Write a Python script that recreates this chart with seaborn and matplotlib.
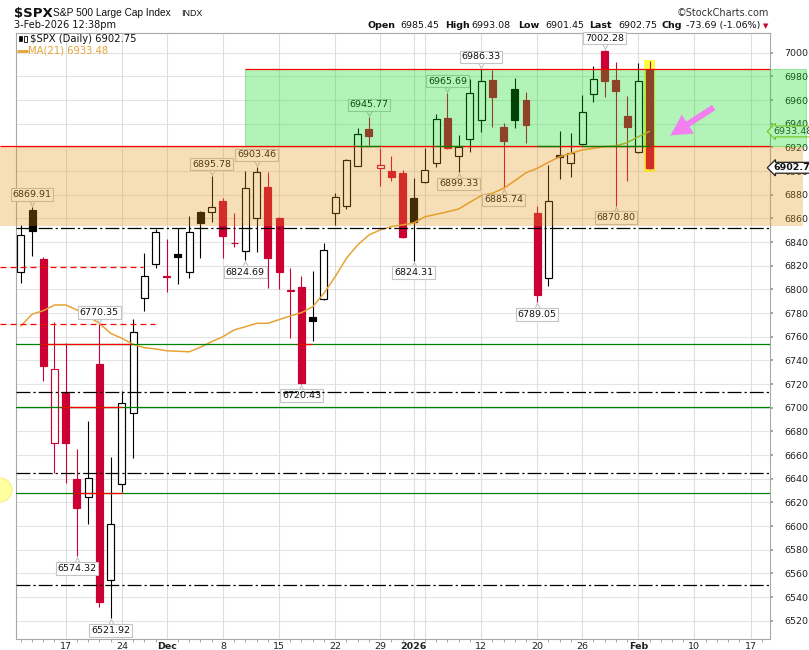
import matplotlib
matplotlib.use("Agg")
import matplotlib.pyplot as plt
from matplotlib.patches import Rectangle, Ellipse, FancyArrowPatch
from matplotlib.lines import Line2D
import matplotlib.transforms as mtransforms
import numpy as np
import pandas as pd
import seaborn as sns

# ---------------- data ----------------
opens = [6814.4, 6867.1, 6825.6, 6670.4, 6712.7, 6639.7, 6624.3, 6736.9, 6554.4, 6635.3,
         6695.3, 6792.4, 6821.2, 6810.3, 6829.6, 6814.4, 6865.6, 6865.1, 6874.7, 6839.0,
         6832.4, 6860.0, 6886.3, 6860.0, 6799.0, 6802.2, 6776.4, 6791.6, 6864.3, 6870.7,
         6904.3, 6935.3, 6902.3, 6900.0, 6898.1, 6876.9, 6891.0, 6907.0, 6944.6, 6913.0,
         6926.8, 6943.1, 6976.9, 6937.2, 6969.1, 6960.0, 6864.8, 6809.3, 6913.5, 6906.5,
         6922.8, 6965.1, 7001.4, 6976.9, 6946.5, 6915.8, 6985.45]
highs = [6854.4, 6869.91, 6827.1, 6772.7, 6754.4, 6665.1, 6688.8, 6770.35, 6658.6, 6714.4,
         6774.7, 6830.5, 6850.8, 6842.6, 6851.6, 6862.0, 6866.2, 6895.78, 6876.9, 6864.2,
         6900.3, 6903.46, 6899.4, 6861.4, 6817.8, 6811.3, 6815.5, 6838.9, 6881.2, 6910.2,
         6936.6, 6945.77, 6919.2, 6912.7, 6900.9, 6893.9, 6919.2, 6947.9, 6965.69, 6930.4,
         6977.5, 6986.33, 6985.4, 6940.3, 6978.4, 6967.0, 6870.4, 6905.1, 6933.8, 6931.9,
         6964.3, 6989.0, 7002.28, 6992.4, 6963.4, 6991.5, 6993.08]
lows = [6805.6, 6828.2, 6722.8, 6644.5, 6636.6, 6574.32, 6601.5, 6531.8, 6521.92, 6629.0,
        6657.7, 6782.0, 6818.3, 6798.0, 6804.5, 6809.3, 6826.2, 6857.2, 6826.2, 6836.0,
        6824.69, 6831.8, 6800.9, 6800.1, 6758.6, 6720.43, 6756.6, 6791.0, 6854.4, 6867.7,
        6904.0, 6922.0, 6887.6, 6891.8, 6843.2, 6824.31, 6890.1, 6903.2, 6918.4, 6899.33,
        6916.3, 6933.2, 6937.5, 6885.74, 6936.1, 6923.9, 6789.05, 6803.1, 6893.0, 6894.7,
        6922.0, 6958.1, 6962.3, 6870.80, 6891.8, 6915.0, 6901.45]
closes = [6845.9, 6849.6, 6735.5, 6732.4, 6670.4, 6615.5, 6640.3, 6536.0, 6601.5, 6703.7,
          6764.2, 6811.3, 6848.2, 6811.0, 6827.6, 6848.2, 6855.8, 6869.3, 6845.3, 6839.6,
          6885.4, 6899.4, 6826.3, 6814.9, 6799.4, 6721.0, 6773.5, 6833.0, 6877.8, 6909.3,
          6931.0, 6929.6, 6905.1, 6895.2, 6844.0, 6857.2, 6900.9, 6943.7, 6919.7, 6920.6,
          6965.7, 6976.3, 6962.8, 6925.6, 6943.1, 6938.9, 6795.2, 6874.7, 6912.1, 6915.0,
          6949.6, 6977.5, 6976.5, 6967.9, 6937.5, 6976.44, 6902.75]
ma21 = [6769.0, 6778.9, 6782.0, 6786.8, 6786.8, 6782.6, 6776.9, 6771.3, 6762.9, 6758.6,
        6753.6, 6750.7, 6749.6, 6748.1, 6747.7, 6747.2, 6751.1, 6755.8, 6760.0, 6765.7,
        6768.4, 6771.3, 6771.3, 6774.4, 6777.5, 6780.3, 6785.3, 6796.7, 6810.7, 6826.2,
        6837.5, 6845.9, 6850.2, 6853.0, 6854.4, 6856.2, 6861.4, 6863.4, 6865.6, 6867.9,
        6873.6, 6879.2, 6881.2, 6885.4, 6891.8, 6898.6, 6902.3, 6907.4, 6912.1, 6915.0,
        6917.8, 6919.2, 6920.6, 6921.2, 6923.9, 6929.0, 6933.48]

hi_label_idx = [1, 7, 17, 21, 31, 38, 41, 52]
lo_label_idx = [5, 8, 20, 25, 35, 39, 43, 46, 53]

tick_idx = [4, 9, 13, 18, 23, 28, 32, 35, 41, 46, 50, 55, 60, 65]
tick_txt = ["17", "24", "Dec", "8", "15", "22", "29", "2026", "12", "20", "26", "Feb", "10", "17"]
bold_ticks = ["Dec", "2026", "Feb"]
vgrid_idx = [4, 9, 13, 18, 23, 28, 32, 35, 36, 41, 46, 50, 55, 60, 65]
ytick_vals = list(range(6520, 7001, 20))

dashdot_levels = [6852.1, 6713.0, 6644.4, 6550.0]
green_levels = [6753.6, 6700.3, 6627.5]
zone_low, zone_mid, zone_high = 6853.5, 6921.0, 6986.33
red_dash_levels = [6818.6, 6770.35]

last_price, ma_last = 6902.75, 6933.48

# ---------------- layout helpers (pixel -> data) ----------------
W, H = 809, 650
X0, DX = 20.8, 11.227          # pixel x of first candle, pixels per trading day
Y0, DY = 52.7, 1.1833          # pixel y of 7000, pixels per point


def i_of(px):
    return (px - X0) / DX


def p_of(py):
    return 7000 - (py - Y0) / DY


def fx(px):
    return px / W


def fy(py):
    return 1 - py / H


sns.set_theme(style="white")
plt.rcParams['font.family'] = ['DejaVu Sans']
plt.rcParams['lines.scale_dashes'] = False

fig = plt.figure(figsize=(W / 100, H / 100), dpi=100)
fig.patch.set_facecolor("white")
ax = fig.add_axes([fx(16), fy(639), (770 - 16) / W, (639 - 33) / H])
ax.set_facecolor("white")

RED = "#cc0033"
BLK = "#000000"
MA_COL = "#e6a335"

n = len(closes)
idx = np.arange(n)
df = pd.DataFrame({"i": idx, "open": opens, "high": highs, "low": lows,
                   "close": closes, "ma": ma21})

# grid
for v in ytick_vals:
    ax.axhline(v, color="#e4e4e4", lw=0.8, zorder=0.8)
for v in vgrid_idx:
    ax.axvline(v, color="#dedede", lw=0.8, zorder=0.8)

# highlight of current bar
ax.add_patch(Rectangle((n - 1 - 0.45, lows[-1] - 2), 0.9, highs[-1] - lows[-1] + 3,
                       fc="#ffff44", lw=0, zorder=1.8))

# candles
for i in range(n):
    o, h, l, c = opens[i], highs[i], lows[i], closes[i]
    prev = closes[i - 1] if i > 0 else o
    col = BLK if c >= prev else RED
    hollow = c >= o
    ax.vlines(i, l, h, color=col, lw=0.8, zorder=2)
    ax.bar(i, abs(c - o), bottom=min(o, c), width=0.62,
           facecolor="white" if hollow else col, edgecolor=col,
           linewidth=0.85, zorder=2.2)

# moving average
sns.lineplot(data=df, x="i", y="ma", ax=ax, color=MA_COL, linewidth=1.1,
             zorder=2.5, legend=False)

# value callouts
ptr_up = mtransforms.offset_copy(ax.transData, fig=fig, x=0, y=4, units="dots")
ptr_dn = mtransforms.offset_copy(ax.transData, fig=fig, x=0, y=-4, units="dots")
box = dict(boxstyle="square,pad=0.18", fc="white", ec="#c4c4c4", lw=0.8)
for i in hi_label_idx:
    ax.plot(i, highs[i], marker="v", ms=5, mfc="white", mec="#c4c4c4", mew=0.8,
            transform=ptr_up, zorder=2.6)
    ax.annotate(f"{highs[i]:.2f}", xy=(i, highs[i]), xytext=(0, 12),
                textcoords="offset pixels", ha="center", va="center", fontsize=6.8,
                color="#111", bbox=box, zorder=2.7)
for i in lo_label_idx:
    ax.plot(i, lows[i], marker="^", ms=5, mfc="white", mec="#c4c4c4", mew=0.8,
            transform=ptr_dn, zorder=2.6)
    ax.annotate(f"{lows[i]:.2f}", xy=(i, lows[i]), xytext=(0, -12),
                textcoords="offset pixels", ha="center", va="center", fontsize=6.8,
                color="#111", bbox=box, zorder=2.7)

# translucent zones
ax.add_patch(Rectangle((i_of(0), zone_low), i_of(803) - i_of(0), zone_mid - zone_low,
                       fc=(228 / 255, 148 / 255, 18 / 255), alpha=0.3, lw=0,
                       zorder=3, clip_on=False))
ax.add_patch(Rectangle((i_of(245), zone_mid), i_of(806) - i_of(245), zone_high - zone_mid,
                       fc=(0, 220 / 255, 17 / 255), ec=(0, 0.75, 0.1), alpha=0.3, lw=0.8,
                       zorder=3, clip_on=False))

# horizontal level lines
for p in dashdot_levels:
    ax.axhline(p, color="black", lw=0.9, dashes=(10, 2.2, 1.6, 2.2), zorder=4)
for p in green_levels:
    ax.axhline(p, color="#008000", lw=0.9, zorder=4)
ax.hlines(zone_mid, i_of(0), i_of(770), color="#ff0000", lw=0.9, zorder=4, clip_on=False)
ax.hlines(zone_high, i_of(245), i_of(770), color="#ff0000", lw=0.9, zorder=4)
ax.hlines(red_dash_levels[0], i_of(0), i_of(143), color="#ff0000", lw=0.9,
          linestyles=[(0, (4.3, 2.9))], zorder=4, clip_on=False)
ax.hlines(red_dash_levels[1], i_of(0), i_of(155), color="#ff0000", lw=0.9,
          linestyles=[(0, (4.3, 2.9))], zorder=4, clip_on=False)
for p, a, b in [(green_levels[0], 1.7, 9.9), (green_levels[0], 24.6, 25.9),
                (green_levels[1], 3.6, 9.0), (green_levels[2], 4.7, 9.0)]:
    ax.hlines(p, a, b, color="#ff0000", lw=0.9, zorder=4.1)
for a, b in [(29.9, 32.0), (36.9, 39.4), (46.0, 48.0), (50.0, 56.0)]:
    ax.hlines(zone_mid, a, b, color="#008000", lw=0.9, zorder=4.1)

# yellow marker at left edge
ax.add_patch(Ellipse((i_of(0), p_of(490)), 24 / DX, 24 / DY, fc="#ffffa0", ec="#f2f08a",
                     lw=0.8, zorder=3.5, clip_on=False))

# pink arrow
ax.add_patch(FancyArrowPatch((i_of(716), p_of(106)), (i_of(668), p_of(137)),
                             arrowstyle="simple,head_length=0.75,head_width=0.8,tail_width=0.22",
                             mutation_scale=20, color="#f37ff0", lw=0, zorder=5))

# right-side price tags
ax.annotate(f"{ma_last:.2f}", xy=(1.0, ma_last), xycoords=("axes fraction", "data"),
            xytext=(3, 0), textcoords="offset pixels", ha="left", va="center",
            fontsize=6.8, color="#333",
            bbox=dict(boxstyle="larrow,pad=0.1", fc="white", ec="#a9b820", lw=0.8),
            zorder=2.9, annotation_clip=False)
ax.annotate(f"{last_price:.2f}", xy=(1.0, last_price), xycoords=("axes fraction", "data"),
            xytext=(3, 0), textcoords="offset pixels", ha="left", va="center",
            fontsize=6.8, color="#111", fontweight="bold",
            bbox=dict(boxstyle="larrow,pad=0.1", fc="white", ec="#222", lw=0.9),
            zorder=6, annotation_clip=False)

# axes, ticks
ax.set_xlim(i_of(16), i_of(770))
ax.set_ylim(p_of(639), p_of(33))
ax.yaxis.tick_right()
ax.set_yticks(ytick_vals)
ax.set_yticklabels([str(v) for v in ytick_vals], fontsize=6.8, color="#222")
ax.tick_params(axis="y", which="major", length=2, pad=8, color="#999", right=True, left=False)
ax.set_xticks(tick_idx)
ax.set_xticklabels(tick_txt, fontsize=6.8, color="#222")
for lab in ax.get_xticklabels():
    if lab.get_text() in bold_ticks:
        lab.set_fontweight("bold")
ax.set_xticks(np.arange(0, 67), minor=True)
ax.tick_params(axis="x", which="major", length=0, pad=2)
ax.tick_params(axis="x", which="minor", length=2, width=0.6, color="#999", bottom=True)
ax.set_xlabel("")
ax.set_ylabel("")
for s in ax.spines.values():
    s.set_color("#a8a8a8")
    s.set_linewidth(0.8)

# header
fig.text(fx(14), fy(13), "$SPX", fontsize=9.5, fontweight="bold", va="center",
         color="#111", parse_math=False)
fig.text(fx(53), fy(13), "S&P 500 Large Cap Index", fontsize=7.3, va="center",
         color="#111", family=["Liberation Sans", "DejaVu Sans"])
fig.text(fx(181), fy(13.5), "INDX", fontsize=6.4, va="center", color="#111",
         family=["Liberation Sans", "DejaVu Sans"])
fig.text(fx(14), fy(25.5), "3-Feb-2026 12:38pm", fontsize=7.0, va="center", color="#111")
fig.text(fx(769), fy(12.5), "\u00a9StockCharts.com", fontsize=7.0, ha="right", va="center",
         color="#333")
hdr = [(368, "Open", True), (400, "6985.45", False), (445, "High", True),
       (471, "6993.08", False), (518, "Low", True), (545, "6901.45", False),
       (589, "Last", True), (618, "6902.75", False), (661, "Chg", True),
       (686, "-73.69 (-1.06%)", False)]
for px, t, b in hdr:
    fig.text(fx(px), fy(25.5), t, fontsize=6.8, va="center", color="#111",
             fontweight="bold" if b else "normal")
fig.text(fx(763), fy(26), "\u25bc", fontsize=5, va="center", color=RED)

# in-chart legend
fig.text(fx(30), fy(38.5), "$SPX (Daily) 6902.75", fontsize=7.2, va="center",
         color="#111", parse_math=False)
fig.add_artist(Rectangle((fx(19), fy(41)), 3 / W, 5 / H, transform=fig.transFigure,
                         fc="black", ec="black", lw=0.5))
fig.add_artist(Rectangle((fx(24), fy(42)), 3 / W, 6 / H, transform=fig.transFigure,
                         fc="white", ec="black", lw=0.6))
fig.add_artist(Line2D([fx(18), fx(27)], [fy(50.5), fy(50.5)], transform=fig.transFigure,
                      color=MA_COL, lw=2))
fig.text(fx(28), fy(50.5), "MA(21) 6933.48", fontsize=7.2, va="center", color=MA_COL)

fig.savefig("out.png", dpi=100, facecolor="white")
